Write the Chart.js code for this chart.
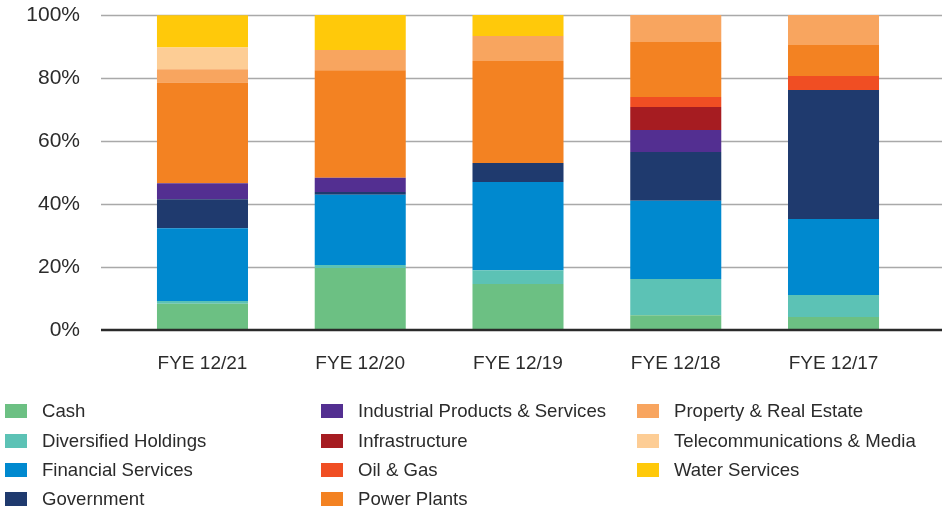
<!DOCTYPE html>
<html>
<head>
<meta charset="utf-8">
<script src="https://cdn.jsdelivr.net/npm/chart.js@4"></script>
<style>
  body { margin: 0; background: #fff; font-family: "Liberation Sans", Arial, sans-serif; }
  #wrap { position: relative; width: 942px; height: 511px; }
  #legend { position: absolute; left: 0; top: 0; }
  .item { position: absolute; display: flex; align-items: center; font-size: 18.6px; color: #2b2b2b; white-space: nowrap; }
  .box { width: 22px; height: 14px; margin-right: 15px; }
</style>
</head>
<body>
<div id="wrap">
  <canvas id="chart" width="942" height="511"></canvas>
  <div id="legend"></div>
</div>
<script>
const years = ['FYE 12/21', 'FYE 12/20', 'FYE 12/19', 'FYE 12/18', 'FYE 12/17'];
const yTicks = [0, 20, 40, 60, 80, 100];

const cash = [8.3, 19.7, 14.6, 4.7, 4.1];
const diversified = [0.9, 0.9, 4.4, 11.5, 7.0];
const financial = [23.1, 22.3, 28.0, 24.8, 24.1];
const government = [9.2, 0.9, 6.0, 15.5, 41.0];
const industrial = [5.1, 4.5, 0, 7.0, 0];
const infrastructure = [0, 0, 0, 7.3, 0];
const oilGas = [0, 0, 0, 3.2, 4.4];
const powerPlants = [32.0, 34.2, 32.4, 17.4, 9.9];
const property = [4.2, 6.4, 7.9, 8.6, 9.5];
const telecom = [6.9, 0, 0, 0, 0];
const water = [10.2, 11.1, 6.7, 0, 0];

const series = [
    ['Cash', cash, '#6cc083'],
    ['Diversified Holdings', diversified, '#5cc2b5'],
    ['Financial Services', financial, '#0089cf'],
    ['Government', government, '#1f3a6e'],
    ['Industrial Products & Services', industrial, '#532f91'],
    ['Infrastructure', infrastructure, '#a61c21'],
    ['Oil & Gas', oilGas, '#f04e23'],
    ['Power Plants', powerPlants, '#f38222'],
    ['Property & Real Estate', property, '#f8a55f'],
    ['Telecommunications & Media', telecom, '#fdcd95'],
    ['Water Services', water, '#ffc90a']
];

// grid lines run wider than the plot area, so draw them by hand
const gridPlugin = {
    id: 'wideGrid',
    beforeDatasetsDraw(chart) {
        const ctx = chart.ctx;
        const y = chart.scales.y;
        ctx.save();
        ctx.strokeStyle = '#a9a9a9';
        ctx.lineWidth = 1.5;
        yTicks.forEach(t => {
            if (t === 0) return;
            const py = Math.round(y.getPixelForValue(t)) + 0.5;
            ctx.beginPath();
            ctx.moveTo(101, py);
            ctx.lineTo(942, py);
            ctx.stroke();
        });
        ctx.restore();
    },
    afterDatasetsDraw(chart) {
        const ctx = chart.ctx;
        const py = chart.scales.y.getPixelForValue(0);
        ctx.save();
        ctx.strokeStyle = '#2a2a2a';
        ctx.lineWidth = 2.5;
        ctx.beginPath();
        ctx.moveTo(101, py);
        ctx.lineTo(942, py);
        ctx.stroke();
        ctx.restore();
    }
};

new Chart(document.getElementById('chart'), {
    type: 'bar',
    data: {
        labels: years,
        datasets: series.map(s => ({
            label: s[0],
            data: s[1],
            backgroundColor: s[2],
            borderWidth: 0,
            barPercentage: 0.577,
            categoryPercentage: 1
        }))
    },
    options: {
        responsive: false,
        animation: false,
        layout: { padding: { top: 15, right: 29.6, left: 0, bottom: 0 } },
        plugins: { legend: { display: false }, tooltip: { enabled: false } },
        scales: {
            x: {
                stacked: true,
                grid: { display: false, drawTicks: true, tickLength: 22 },
                border: { display: false },
                ticks: { padding: 0, color: '#2b2b2b', font: { family: 'Liberation Sans', size: 19 } },
                afterFit(scale) { scale.height = 181; }
            },
            y: {
                stacked: true,
                min: 0,
                max: 100,
                grid: { display: false, drawTicks: true, tickLength: 43.6 },
                border: { display: false },
                ticks: {
                    stepSize: 20,
                    padding: 0,
                    color: '#2b2b2b',
                    font: { family: 'Liberation Sans', size: 21 },
                    callback: v => v + '%'
                },
                afterFit(scale) { scale.width = 123.6; }
            }
        }
    },
    plugins: [gridPlugin]
});

// legend, filled by column
const legend = document.getElementById('legend');
const colX = [5, 321, 637];
const rowY = [411, 441, 470, 499];
series.forEach((s, i) => {
    const col = Math.floor(i / 4);
    const row = i % 4;
    const el = document.createElement('div');
    el.className = 'item';
    el.style.left = colX[col] + 'px';
    el.style.top = (rowY[row] - 11) + 'px';
    el.style.height = '22px';
    el.innerHTML = '<span class="box" style="background:' + s[2] + '"></span><span>' + s[0] + '</span>';
    legend.appendChild(el);
});
</script>
</body>
</html>
